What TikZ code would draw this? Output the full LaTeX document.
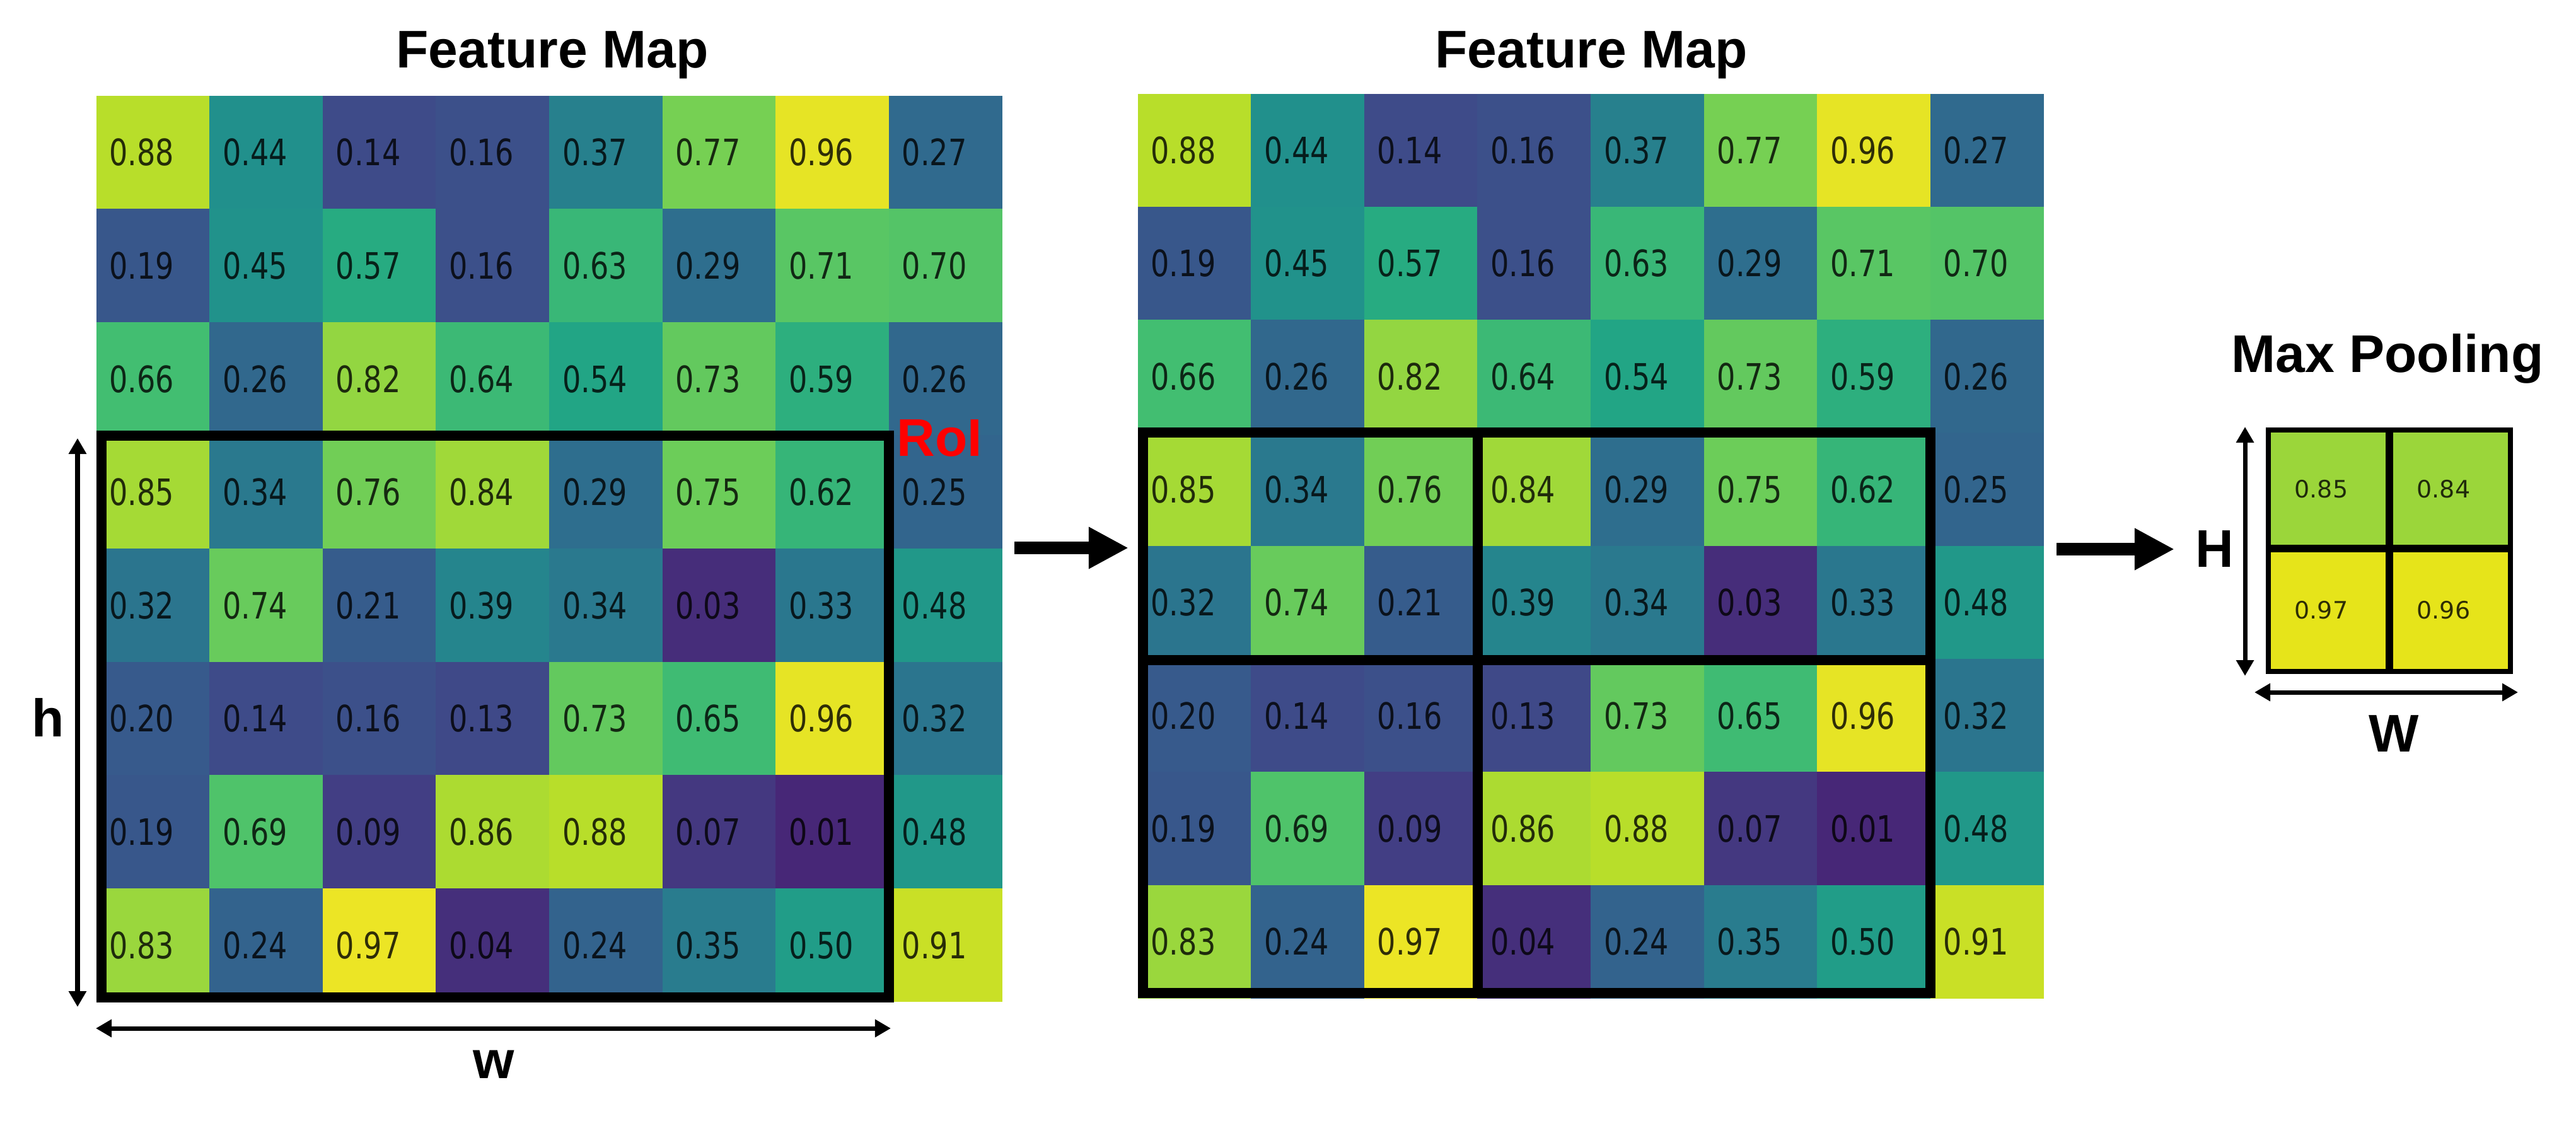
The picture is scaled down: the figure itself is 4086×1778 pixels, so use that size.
\documentclass[tikz,border=0pt]{standalone}
\usepackage{fontspec}
\setmainfont{Liberation Sans}
\newfontfamily\lblfont{Liberation Sans}
\newfontfamily\numfont[FakeStretch=0.8]{DejaVu Sans}
\newfontfamily\poolfont{DejaVu Sans}
\usetikzlibrary{arrows.meta}
\definecolor{V0}{HTML}{440154}
\definecolor{V1}{HTML}{482475}
\definecolor{V2}{HTML}{414487}
\definecolor{V3}{HTML}{355F8D}
\definecolor{V4}{HTML}{2A788E}
\definecolor{V5}{HTML}{21918C}
\definecolor{V6}{HTML}{22A884}
\definecolor{V7}{HTML}{44BF70}
\definecolor{V8}{HTML}{7AD151}
\definecolor{V9}{HTML}{BDDF26}
\definecolor{V10}{HTML}{FDE725}
\definecolor{poolg}{RGB}{155,214,58}
\definecolor{pooly}{RGB}{230,228,26}
\definecolor{roired}{RGB}{255,0,0}
\newcommand\setvir[1]{%
  \pgfmathsetmacro\virv{min(9.999,(0.1+0.9*#1)*10)}%
  \pgfmathtruncatemacro\viri{floor(\virv)}%
  \pgfmathtruncatemacro\virj{\viri+1}%
  \pgfmathtruncatemacro\virp{round(100*(1-(\virv-\viri)))}%
  \colorlet{cellc}{V\viri!\virp!V\virj}}
\tikzset{
  val/.style={font={\numfont\fontsize{16.4pt}{18pt}\selectfont}, text=black, text opacity=0.8, inner sep=0pt},
  pval/.style={font={\poolfont\fontsize{10.8pt}{12pt}\selectfont}, text=black, text opacity=0.8, inner sep=0pt},
  lbl/.style={font={\lblfont\bfseries\fontsize{23.9pt}{28pt}\selectfont}, inner sep=0pt, anchor=base},
  roibox/.style={draw=black, line width=0.16cm},
  bigarrow/.style={line width=0.2cm, -{Triangle[length=0.63cm,width=0.62cm]}},
  dimarrow/.style={line width=0.07cm, {Triangle[length=0.25cm,width=0.27cm]}-{Triangle[length=0.25cm,width=0.27cm]}},
}
\begin{document}
\begin{tikzpicture}[x=0.01cm,y=-0.01cm]
\useasboundingbox[fill=white] (0,0) rectangle (4086,1778);
% feature map grids
\foreach \row [count=\ri from 0] in {
  {0.88,0.44,0.14,0.16,0.37,0.77,0.96,0.27},
  {0.19,0.45,0.57,0.16,0.63,0.29,0.71,0.70},
  {0.66,0.26,0.82,0.64,0.54,0.73,0.59,0.26},
  {0.85,0.34,0.76,0.84,0.29,0.75,0.62,0.25},
  {0.32,0.74,0.21,0.39,0.34,0.03,0.33,0.48},
  {0.20,0.14,0.16,0.13,0.73,0.65,0.96,0.32},
  {0.19,0.69,0.09,0.86,0.88,0.07,0.01,0.48},
  {0.83,0.24,0.97,0.04,0.24,0.35,0.50,0.91}}{
  \foreach \v [count=\ci from 0] in \row {
    \setvir{\v}
    \fill[cellc, draw=cellc, line width=0.01cm] ({153+\ci*179.6},{152+\ri*179.6}) rectangle ++(179.6,179.6);
    \node[val] (L\ri-\ci) at ({153+\ci*179.6+72},{152+\ri*179.6+89.8}) {\v};
    \fill[cellc, draw=cellc, line width=0.01cm] ({1805+\ci*179.6},{149+\ri*179.3}) rectangle ++(179.6,179.3);
    \node[val] (M\ri-\ci) at ({1805+\ci*179.6+72},{149+\ri*179.3+89.6}) {\v};
  }
}
% RoI boxes
\draw[roibox] (161,691) rectangle (1410,1582);
\draw[roibox] (1813,686) rectangle (3062,1575);
\draw[roibox] (2344,686) -- (2344,1575);
\draw[roibox] (1813,1047) -- (3062,1047);
% max pooling
\fill[poolg] (3598,682) rectangle (3982,870);
\fill[pooly] (3598,870) rectangle (3982,1065);
\draw[line width=0.08cm] (3598,682) rectangle (3982,1065);
\draw[line width=0.12cm] (3790,682) -- (3790,1065);
\draw[line width=0.12cm] (3598,870) -- (3982,870);
\node[pval] (P00) at (3682,776) {0.85};
\node[pval] (P01) at (3876,776) {0.84};
\node[pval] (P10) at (3682,968) {0.97};
\node[pval] (P11) at (3876,968) {0.96};
% arrows
\coordinate (A1s) at (1609,869);
\coordinate (A1e) at (1790,869);
\draw[bigarrow] (A1s) -- (A1e);
\coordinate (A2s) at (3262,871);
\coordinate (A2e) at (3449,871);
\draw[bigarrow] (A2s) -- (A2e);
% dimension arrows
\coordinate (h1) at (123,695);
\coordinate (h2) at (123,1597);
\draw[dimarrow] (h1) -- (h2);
\coordinate (w1) at (152,1631);
\coordinate (w2) at (1413,1631);
\draw[dimarrow] (w1) -- (w2);
\coordinate (H1) at (3561,677);
\coordinate (H2) at (3561,1072);
\draw[dimarrow] (H1) -- (H2);
\coordinate (W1) at (3576,1098);
\coordinate (W2) at (3994,1098);
\draw[dimarrow] (W1) -- (W2);
% labels
\node[lbl] (t1) at (876,107) {Feature Map};
\node[lbl] (t2) at (2524,107) {Feature Map};
\node[lbl] (t3) at (3787,590) {Max Pooling};
\node[lbl, text=roired] (roi) at (1490,723) {RoI};
\node[lbl] (lh) at (76,1168) {h};
\node[lbl] (lw) at (783,1710) {w};
\node[lbl] (lH) at (3513,899) {H};
\node[lbl] (lW) at (3797,1192) {W};
\end{tikzpicture}
\end{document}
